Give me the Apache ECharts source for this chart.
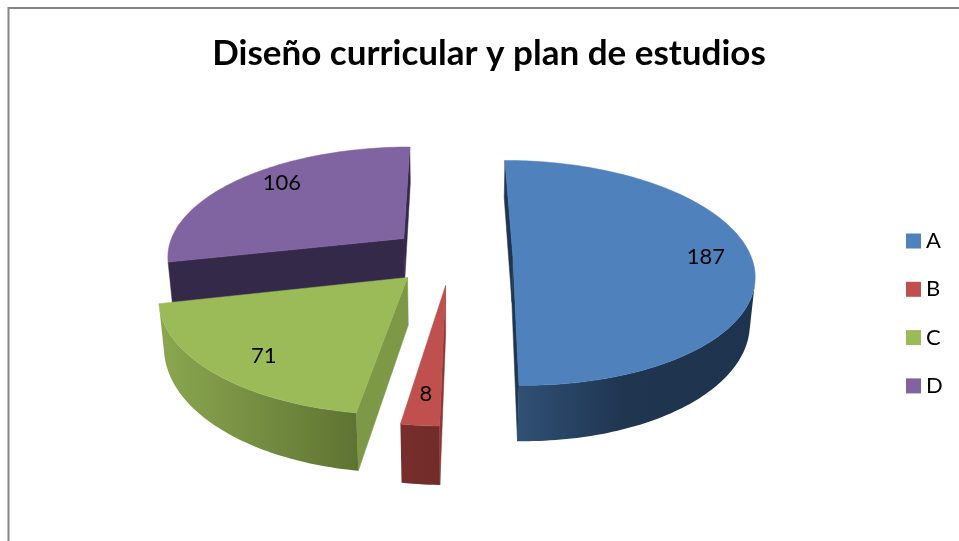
<!DOCTYPE html>
<html>
<head>
<meta charset="utf-8">
<style>html,body{margin:0;padding:0;background:#fff}#c{width:959px;height:541px}</style>
<script src="https://cdn.jsdelivr.net/npm/echarts@6/dist/echarts.min.js"></script>
</head>
<body>
<div id="c"></div>
<script>
const titleText = 'Diseño curricular y plan de estudios';
const categories = ['A', 'B', 'C', 'D'];
const values = [187, 8, 71, 106];

const topColors = ['#4f81bd', '#c0504d', '#9bbb59', '#8064a2'];
const cutColors = ['#1f3650', '#8a3836', '#7d9846', '#35294a'];
const wallStops = [
  [[0, '#2f5075'], [0.45, '#1f3550'], [1, '#1d334e']],
  [[0, '#772e2c'], [1, '#712b29']],
  [[0, '#8ba750'], [1, '#5e7332']],
  [[0, '#35294a'], [1, '#35294a']]
];
const paintOrder = [2, 4, 3, 1];
const labelReach = [0.81, 0.8, 0.8, 0.82];
const labelSpin = [0, 0, -0.05, 0.1];

// camera / pie geometry
const CX = 451, CY = 256, R = 238, EXPLODE = 0.26, TILT = 27.5 * Math.PI / 180, DIST = 6, THICK = 0.22, THICK_GROW = 0.1;
const sinT = Math.sin(TILT), cosT = Math.cos(TILT);
const CAM = [0, DIST * cosT, DIST * sinT];
const total = values.reduce((a, b) => a + b, 0);

function project(X, Y, Z) {
  const z = Z * (1 + THICK_GROW * Y);
  const s = DIST / (DIST - Y * cosT - z * sinT);
  return [CX + R * X * s, CY + R * (Y * sinT - z * cosT) * s];
}
function sliceAngles(i) {
  let before = 0;
  for (let k = 0; k < i; k++) before += values[k];
  return [before / total * 2 * Math.PI, (before + values[i]) / total * 2 * Math.PI];
}
function faces(n, p) {
  return n[0] * (CAM[0] - p[0]) + n[1] * (CAM[1] - p[1]) > 0;
}
function poly(points, fill, stroke) {
  return { type: 'polygon', shape: { points: points }, style: { fill: fill, stroke: stroke || fill, lineWidth: 0.5 } };
}
function renderSlice(i, api) {
  const value = api.value(0);
  const ang = sliceAngles(i);
  const a0 = ang[0], a1 = ang[1], mid = (a0 + a1) / 2;
  const ax = EXPLODE * Math.sin(mid), ay = -EXPLODE * Math.cos(mid);
  const steps = Math.max(6, Math.round((a1 - a0) / 0.02));
  const topArc = [], wallTop = [], wallBottom = [];
  for (let k = 0; k <= steps; k++) {
    const a = a0 + (a1 - a0) * k / steps;
    const wx = ax + Math.sin(a), wy = ay - Math.cos(a);
    topArc.push(project(wx, wy, 0));
    if (faces([Math.sin(a), -Math.cos(a)], [wx, wy])) {
      wallTop.push(project(wx, wy, 0));
      wallBottom.push(project(wx, wy, -THICK));
    }
  }
  const children = [];
  const apexTop = project(ax, ay, 0), apexBottom = project(ax, ay, -THICK);
  const rim = a => [ax + Math.sin(a), ay - Math.cos(a)];
  const cut = (a, n) => {
    if (!faces(n, [ax, ay])) return;
    const r = rim(a);
    children.push(poly([apexTop, project(r[0], r[1], 0), project(r[0], r[1], -THICK), apexBottom], cutColors[i]));
  };
  cut(a0, [-Math.cos(a0), -Math.sin(a0)]);
  cut(a1, [Math.cos(a1), Math.sin(a1)]);
  if (wallTop.length > 1) {
    const outline = wallTop.concat(wallBottom.slice().reverse());
    const xs = outline.map(p => p[0]);
    const grad = new echarts.graphic.LinearGradient(Math.min.apply(null, xs), 0, Math.max.apply(null, xs), 0,
      wallStops[i].map(s => ({ offset: s[0], color: s[1] })), true);
    children.push({ type: 'polygon', shape: { points: outline }, style: { fill: grad } });
  }
  children.push(poly([apexTop].concat(topArc), topColors[i]));
  const la = mid + labelSpin[i];
  const lp = project(ax + labelReach[i] * Math.sin(la), ay - labelReach[i] * Math.cos(la), 0);
  children.push({
    type: 'text',
    style: { text: String(value), x: lp[0], y: lp[1], align: 'center', verticalAlign: 'middle',
      font: '22px Lato, sans-serif', fill: '#000' }
  });
  return { type: 'group', children: children };
}

const chart = echarts.init(document.getElementById('c'), null, { renderer: 'canvas' });
chart.setOption({
  animation: false,
  backgroundColor: '#fff',
  title: { text: titleText, left: 484, top: 31, textAlign: 'center',
    textStyle: { fontFamily: 'Lato, sans-serif', fontWeight: 'bold', fontSize: 35, color: '#000' } },
  legend: {
    data: categories, orient: 'vertical', left: 901, top: 224, icon: 'rect', itemWidth: 15, itemHeight: 15,
    itemGap: 24.3, selectedMode: false,
    textStyle: { fontFamily: 'Lato, sans-serif', fontSize: 22, lineHeight: 24, color: '#000' }
  },
  graphic: [{ type: 'polyline', silent: true, shape: { points: [[8.5, 541], [8.5, 8], [959, 8]] },
    style: { fill: null, stroke: '#868686', lineWidth: 2 } }],
  series: categories.map((name, i) => ({
    type: 'custom', name: name, coordinateSystem: 'none', z: paintOrder[i],
    itemStyle: { color: topColors[i] },
    data: [[values[i]]],
    renderItem: (params, api) => renderSlice(i, api)
  }))
});
</script>
</body>
</html>
